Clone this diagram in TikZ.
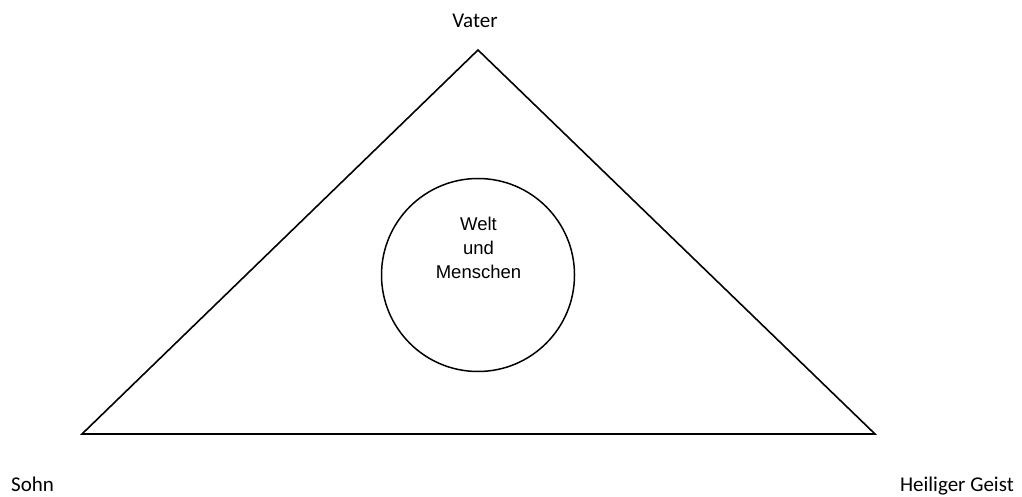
\documentclass[tikz,border=0pt]{standalone}
\usepackage{fontspec}
\setmainfont{Carlito}
\newfontfamily\arialfont{Liberation Sans}
\tikzset{
  outline/.style={line width=1.6pt, line join=miter},
  corner/.style={font=\fontsize{21}{25}\selectfont, anchor=base, inner sep=0pt},
  inner/.style={circle, draw, line width=1.5pt, minimum size=193pt, inner sep=0pt},
  innertext/.style={font=\arialfont\fontsize{18.5}{24}\selectfont, align=center, anchor=base, inner sep=0pt}
}
\begin{document}
\begin{tikzpicture}[x=1pt,y=-1pt]
  \useasboundingbox (0,0) rectangle (1022,497);
  \coordinate (top) at (478,50);
  \coordinate (bl) at (82,434);
  \coordinate (br) at (875,434);
  \draw[outline] (top) -- (bl) -- (br) -- cycle;
  \node[inner] (world) at (478,275) {};
  \node[innertext] (wt) at (478.5,278.8) {Welt\\und\\Menschen};
  \node[corner] (vater) at (475,27.3) {Vater};
  \node[corner, anchor=base west] (sohn) at (11,491.5) {Sohn};
  \node[corner, anchor=base east] (geist) at (1014,491.5) {Heiliger Geist};
\end{tikzpicture}
\end{document}
